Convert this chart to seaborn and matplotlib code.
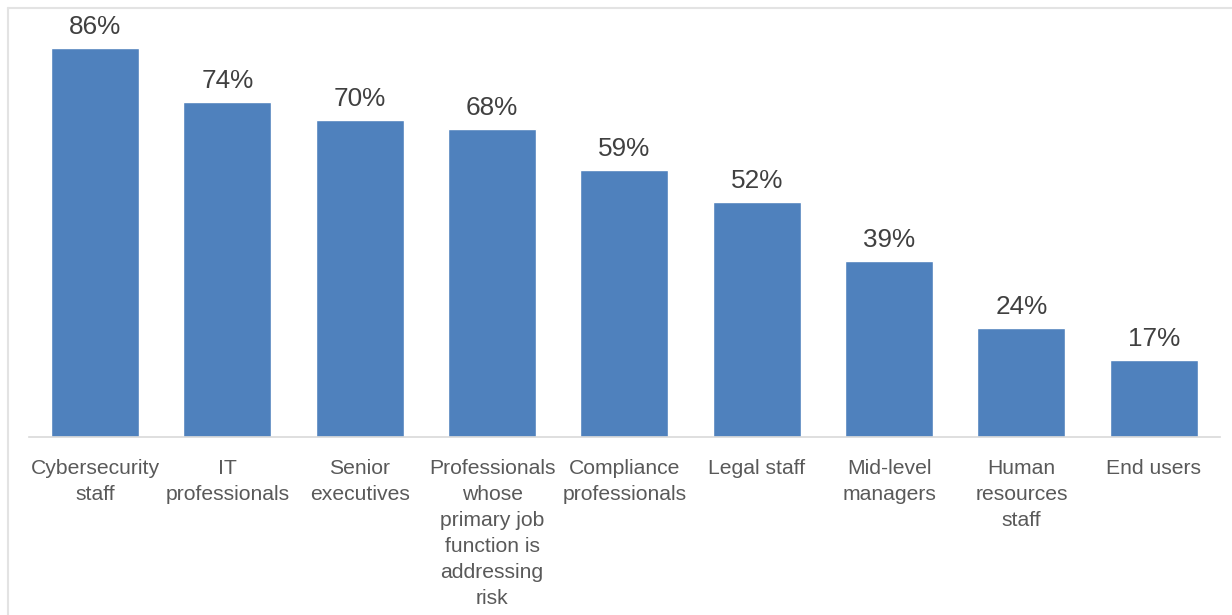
import matplotlib
matplotlib.use("Agg")
import matplotlib.pyplot as plt
from matplotlib.lines import Line2D
import seaborn as sns
import pandas as pd

categories = [
    "Cybersecurity\nstaff",
    "IT\nprofessionals",
    "Senior\nexecutives",
    "Professionals\nwhose\nprimary job\nfunction is\naddressing\nrisk",
    "Compliance\nprofessionals",
    "Legal staff",
    "Mid-level\nmanagers",
    "Human\nresources\nstaff",
    "End users",
]
values = [86, 74, 70, 68, 59, 52, 39, 24, 17]

sns.set_theme(style="white")
plt.rcParams["font.family"] = ["Liberation Sans", "DejaVu Sans"]

df = pd.DataFrame({"group": categories, "pct": values})

fig = plt.figure(figsize=(12.32, 6.15), dpi=100)
ax = fig.add_axes([28.8 / 1232, (615 - 437) / 615, (1220 - 28.8) / 1232, (437 - 30) / 615])

sns.barplot(data=df, x="group", y="pct", color="#4F81BD", saturation=1,
            width=0.665, ax=ax)

for i, v in enumerate(values):
    ax.text(i, v + 2.0, f"{v}%", ha="center", va="bottom",
            fontsize=18.8, color="#404040", clip_on=False)

ax.set_xlim(-0.5, len(values) - 0.5)
ax.set_ylim(0, 90)
ax.set_xlabel("")
ax.set_ylabel("")
ax.set_yticks([])
ax.tick_params(axis="x", length=0, pad=15.5, labelsize=15.2, labelcolor="#595959")
for lbl in ax.get_xticklabels():
    lbl.set_linespacing(1.47)
for side in ["top", "right", "left"]:
    ax.spines[side].set_visible(False)
ax.spines["bottom"].set_color("#D9D9D9")
ax.spines["bottom"].set_linewidth(1.2)

# thin frame around the chart area
fig.add_artist(Line2D([7.5 / 1232, 1.0], [1 - 7.5 / 615, 1 - 7.5 / 615],
                      color="#E3E3E3", lw=1.5, transform=fig.transFigure))
fig.add_artist(Line2D([7.5 / 1232, 7.5 / 1232], [0.0, 1 - 7.5 / 615],
                      color="#E3E3E3", lw=1.5, transform=fig.transFigure))

fig.savefig("out.png", dpi=100, facecolor="white")
